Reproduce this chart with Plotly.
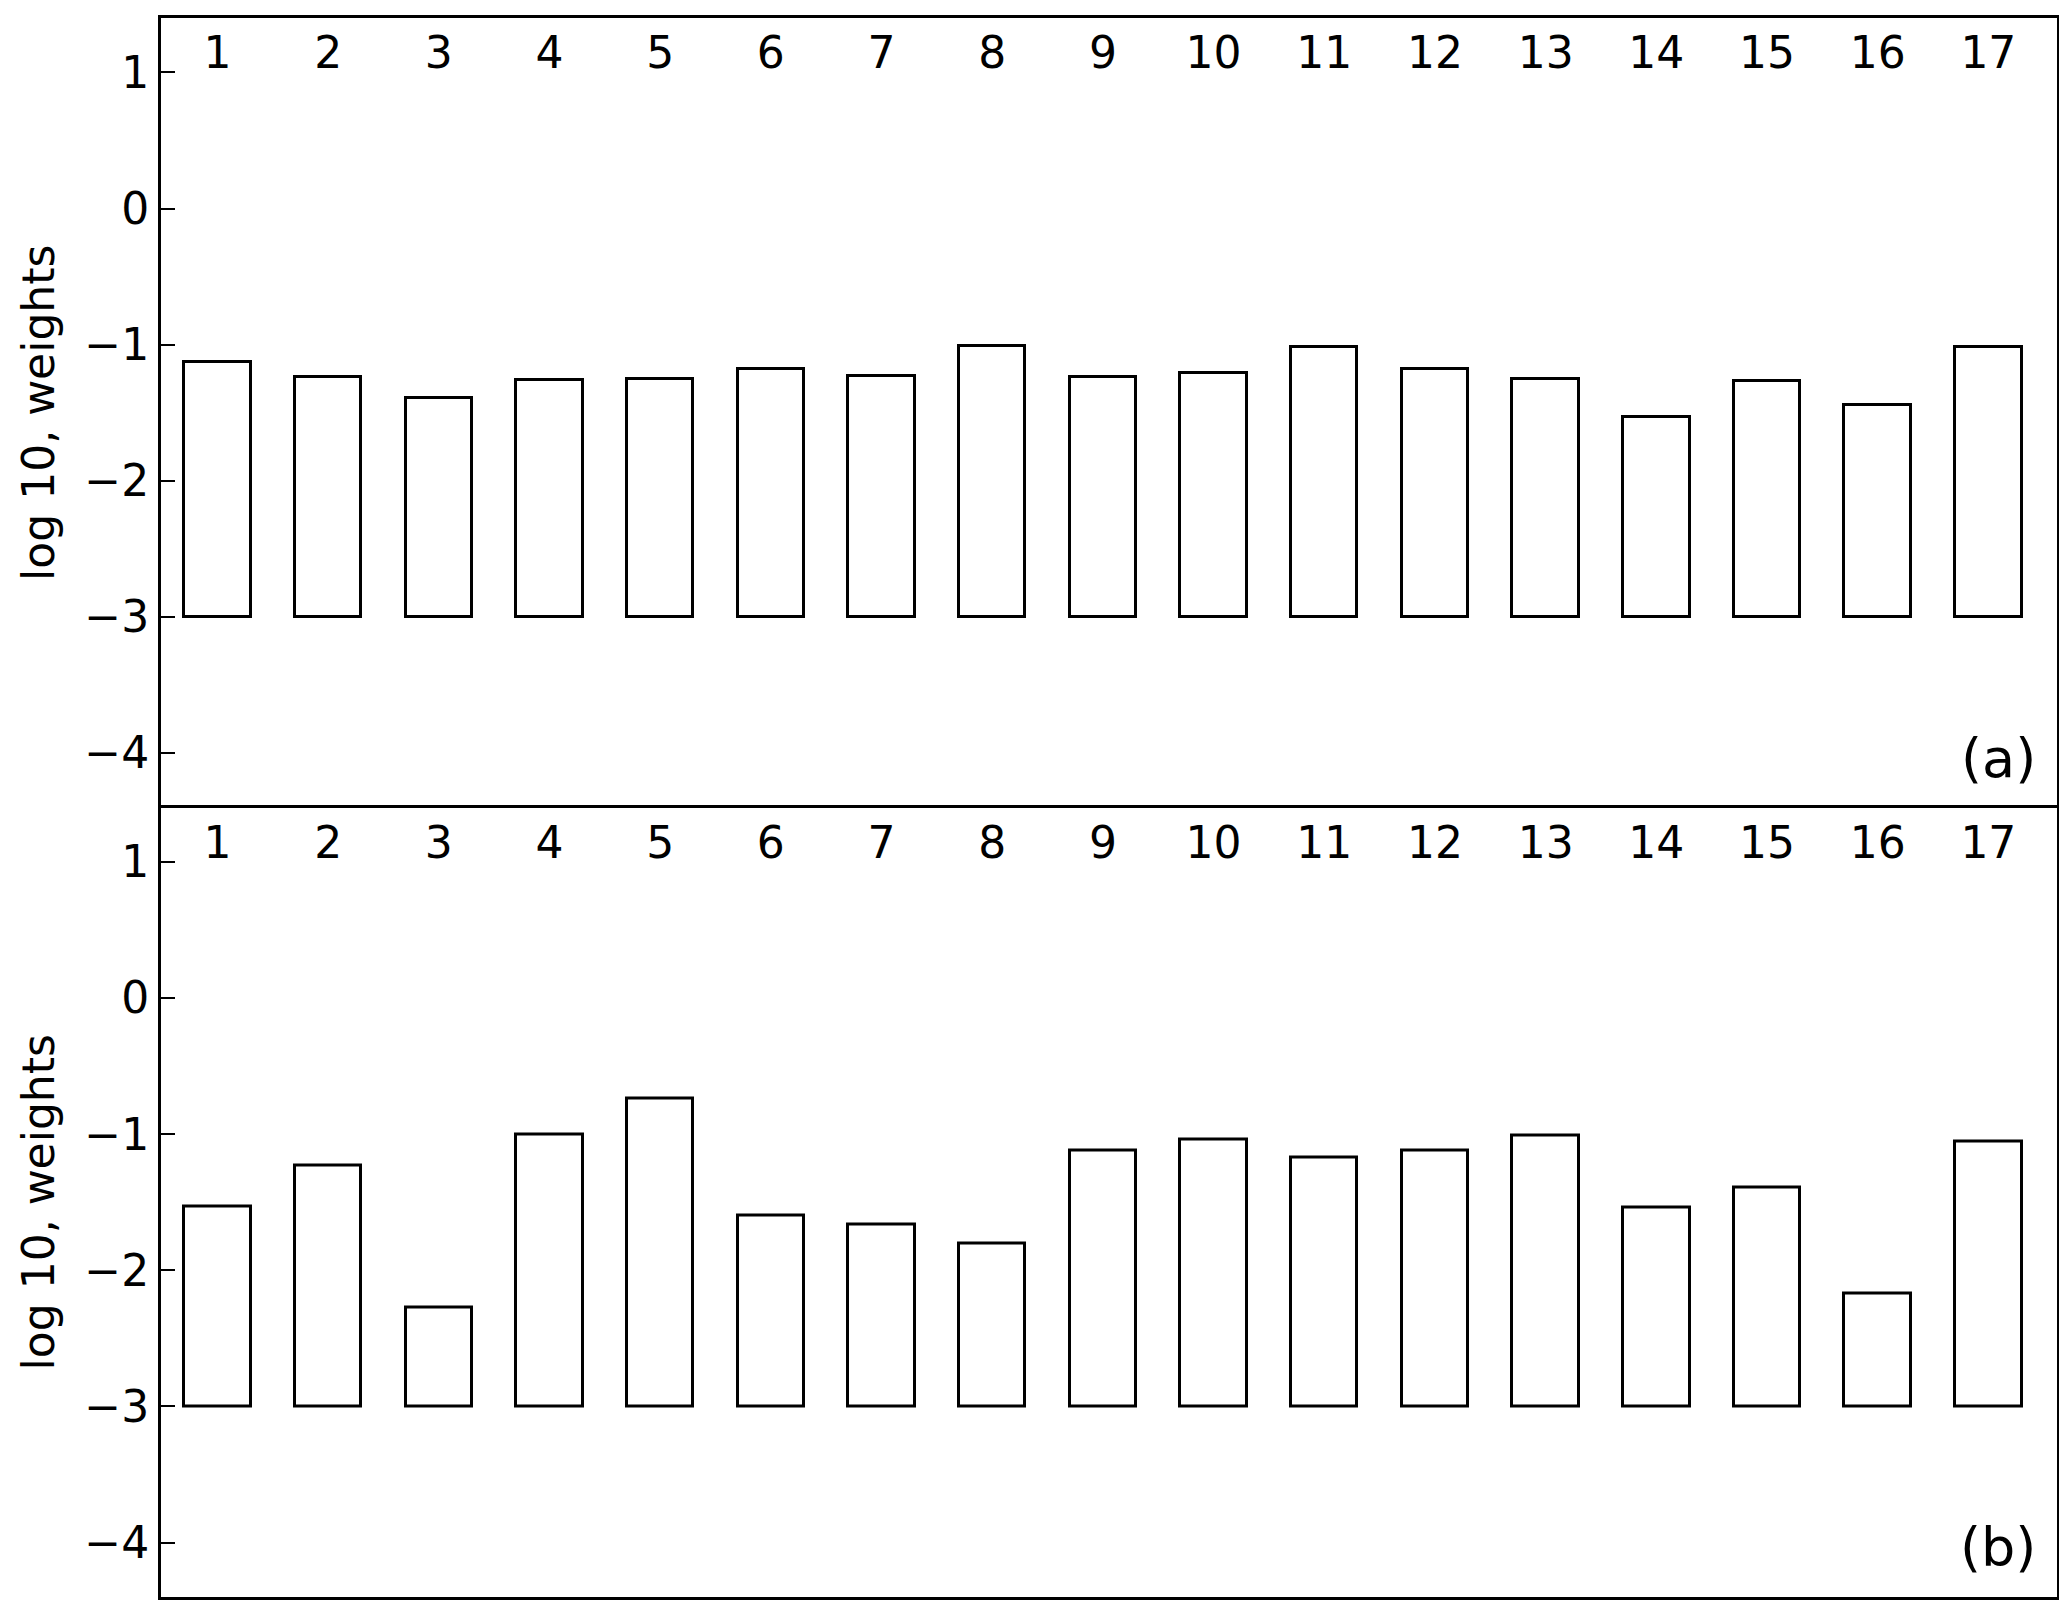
import plotly.graph_objects as go
from plotly.subplots import make_subplots

# feature index, log10 of weights
features = list(range(1, 18))
weights_a = [-1.13, -1.24, -1.39, -1.26, -1.25, -1.18, -1.23, -1.01, -1.24,
             -1.21, -1.02, -1.18, -1.25, -1.53, -1.27, -1.44, -1.02]
weights_b = [-1.53, -1.23, -2.27, -1.00, -0.74, -1.60, -1.66, -1.80, -1.12,
             -1.04, -1.17, -1.12, -1.01, -1.54, -1.39, -2.17, -1.05]
base_level = -3
y_ticks = [-4, -3, -2, -1, 0, 1]
panel_tags = ['(a)', '(b)']

font_name = 'DejaVu Sans'
x_range = [0.49, 17.62]

fig = make_subplots(rows=2, cols=1, vertical_spacing=0)

for row, vals in enumerate([weights_a, weights_b], start=1):
    fig.add_trace(go.Bar(x=features, y=[v - base_level for v in vals],
                         base=base_level, width=0.6,
                         marker=dict(color='white',
                                     line=dict(color='black', width=3)),
                         showlegend=False), row=row, col=1)

    # frame only; top panel has no bottom line (lower panel's top line is the separator)
    fig.update_xaxes(range=x_range, showticklabels=False, ticks='',
                     showline=True, linecolor='black', linewidth=3,
                     mirror=True if row == 2 else False, side='top',
                     showgrid=False, zeroline=False,
                     row=row, col=1)
    fig.update_yaxes(range=[-4.4, 1.4], tickvals=y_ticks,
                     ticks='inside', ticklen=14, tickwidth=2, tickcolor='black',
                     showline=True, linecolor='black', linewidth=3, mirror=True,
                     showgrid=False, zeroline=False,
                     tickfont=dict(family=font_name, size=44, color='black'),
                     title=dict(text='log 10, weights', standoff=16,
                                font=dict(family=font_name, size=44, color='black')),
                     row=row, col=1)

    yref = 'y domain' if row == 1 else 'y2 domain'
    xref = 'x domain' if row == 1 else 'x2 domain'
    fig.add_annotation(text=panel_tags[row - 1], xref=xref, yref=yref,
                       x=0.99, y=0.02, xanchor='right', yanchor='bottom',
                       showarrow=False,
                       font=dict(family=font_name, size=54, color='black'))

# feature numbers sit inside each panel, just under its top edge
label_axes = {'x3': ('x', 'y', 0.9626), 'x4': ('x2', 'y2', 0.4626)}
for ax, (over, yax, pos) in label_axes.items():
    fig.add_trace(go.Scatter(x=[], y=[], xaxis=ax, yaxis=yax,
                             showlegend=False, hoverinfo='skip'))
    fig.update_layout({
        'xaxis' + ax[1:]: dict(overlaying=over, anchor='free', position=pos,
                               side='top', range=x_range, tickvals=features,
                               ticktext=[str(f) for f in features],
                               ticks='', showline=False, showgrid=False,
                               zeroline=False,
                               tickfont=dict(family=font_name, size=44,
                                             color='black'))
    })

fig.update_layout(width=2059, height=1608,
                  margin=dict(l=153, r=7, t=10, b=19),
                  plot_bgcolor='white', paper_bgcolor='white',
                  bargap=0)

fig.write_html("out.html")
